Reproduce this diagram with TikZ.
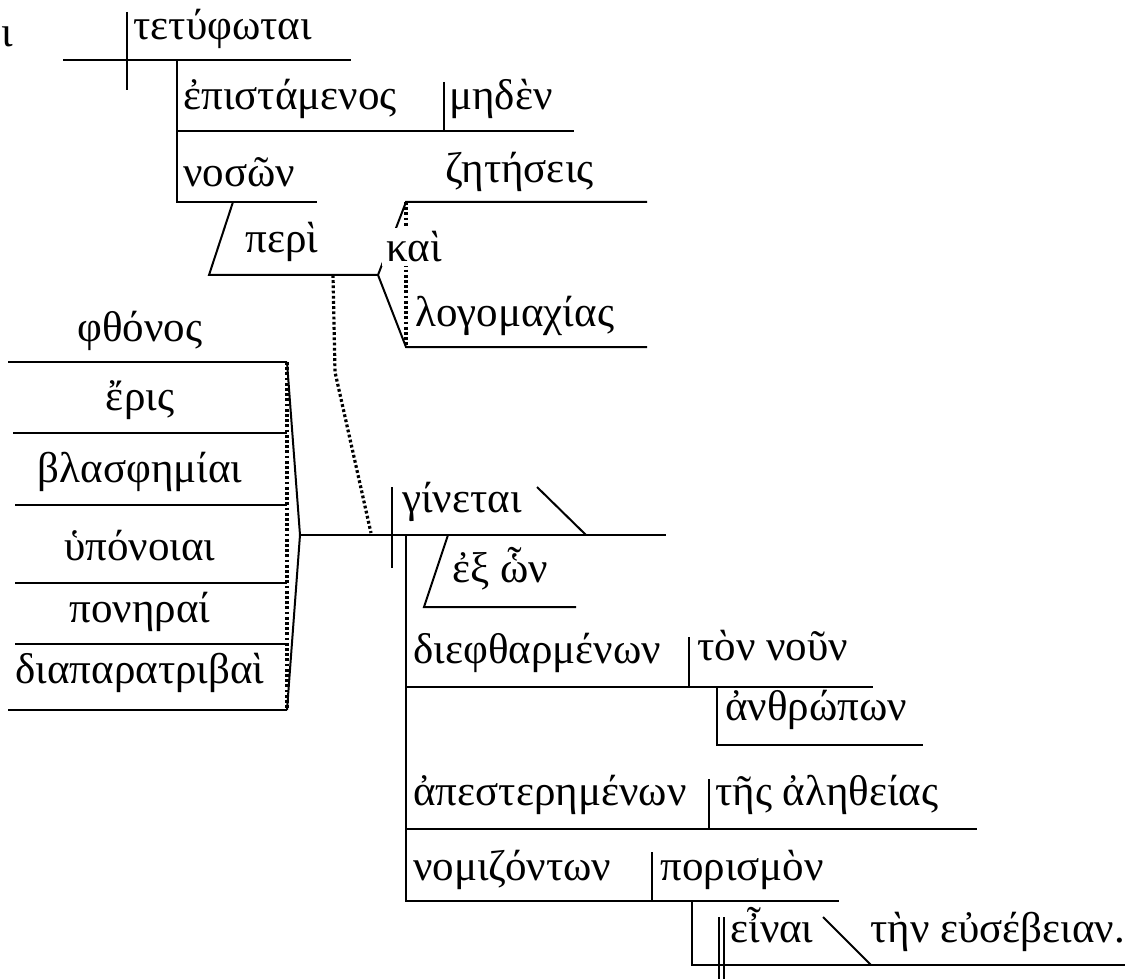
\documentclass[tikz,border=0pt]{standalone}
\usepackage{fontspec}
\setmainfont{Liberation Serif}
\begin{document}
\begin{tikzpicture}[x=0.5pt,y=-0.5pt]
  \tikzset{WordStyle/.style   = {anchor         = base west,
                                 inner sep      = 0pt,
                                 font           = \fontsize{21.5}{26}\selectfont}}
  \tikzset{CenterStyle/.style = {WordStyle,
                                 anchor         = base}}
  \tikzset{EdgeStyle/.style   = {line width     = 1pt}}
  \tikzset{DotStyle/.style    = {line width     = 1.6pt,
                                 dash pattern   = on 1.4pt off 1.2pt}}
%                                 dotted}}

\useasboundingbox (0,0) rectangle (1142,979);

% main clause
\coordinate (S1) at (63,60);
\coordinate (S2) at (351,60);
\coordinate (V1) at (127,12);
\coordinate (V2) at (127,90);
\coordinate (P1) at (177,60);
\coordinate (P2) at (177,131);
\coordinate (P3) at (177,202);
\coordinate (P4) at (574,131);
\coordinate (M1) at (444,82);
\coordinate (M2) at (444,131);
\coordinate (N1) at (317,202);
\coordinate (N2) at (233,202);
\coordinate (R1) at (209,275);
\coordinate (R2) at (378,275);
\coordinate (R3) at (333,275);
\coordinate (R4) at (335,372);
\coordinate (Z1) at (406,202);
\coordinate (Z2) at (647,202);
\coordinate (L1) at (406,347);
\coordinate (L2) at (647,347);

% compound subject
\coordinate (F1) at (287,362);
\coordinate (F2) at (287,433);
\coordinate (F3) at (287,505);
\coordinate (F4) at (287,583);
\coordinate (F5) at (287,644);
\coordinate (F6) at (287,710);
\coordinate (F0) at (300,535);

% second clause
\coordinate (G1) at (371,533);
\coordinate (G2) at (666,535);
\coordinate (D1) at (392,487);
\coordinate (D2) at (392,568);
\coordinate (K1) at (537,487);
\coordinate (K2) at (586,535);
\coordinate (E1) at (448,535);
\coordinate (E2) at (424,607);
\coordinate (E3) at (576,607);
\coordinate (C0) at (406,535);
\coordinate (C1) at (406,687);
\coordinate (C2) at (873,687);
\coordinate (C3) at (689,637);
\coordinate (C4) at (689,687);
\coordinate (A1) at (717,687);
\coordinate (A2) at (717,745);
\coordinate (A3) at (923,745);
\coordinate (T1) at (406,829);
\coordinate (T2) at (977,829);
\coordinate (T3) at (709,779);
\coordinate (T4) at (709,829);
\coordinate (O1) at (406,901);
\coordinate (O2) at (839,901);
\coordinate (O3) at (652,852);
\coordinate (O4) at (652,901);
\coordinate (B1) at (692,901);
\coordinate (B2) at (692,965);
\coordinate (B3) at (1125,965);
\coordinate (B4) at (823,917);
\coordinate (B5) at (871,965);

\draw[EdgeStyle] (S1) -- (S2);
\draw[EdgeStyle] (V1) -- (V2);
\draw[EdgeStyle] (P1) -- (P3) -- (N1);
\draw[EdgeStyle] (P2) -- (P4);
\draw[EdgeStyle] (M1) -- (M2);
\draw[EdgeStyle] (N2) -- (R1) -- (R2);
\draw[EdgeStyle] (R2) -- (Z1) -- (Z2);
\draw[EdgeStyle] (R2) -- (L1) -- (L2);
\draw[DotStyle] (Z1) -- (L1);
\draw[DotStyle] (R3) -- (R4) -- (G1);

\draw[EdgeStyle] (8,362) -- (F1);
\draw[EdgeStyle] (13,433) -- (F2);
\draw[EdgeStyle] (15,505) -- (F3);
\draw[EdgeStyle] (15,583) -- (F4);
\draw[EdgeStyle] (15,644) -- (F5);
\draw[EdgeStyle] (8,710) -- (F6);
\draw[DotStyle] (F1) -- (F6);
\draw[EdgeStyle] (F1) -- (F0) -- (F6);
\draw[EdgeStyle] (F0) -- (G2);

\draw[EdgeStyle] (D1) -- (D2);
\draw[EdgeStyle] (K1) -- (K2);
\draw[EdgeStyle] (E1) -- (E2) -- (E3);
\draw[EdgeStyle] (C0) -- (O1) -- (O2);
\draw[EdgeStyle] (C1) -- (C2);
\draw[EdgeStyle] (C3) -- (C4);
\draw[EdgeStyle] (A1) -- (A2) -- (A3);
\draw[EdgeStyle] (T1) -- (T2);
\draw[EdgeStyle] (T3) -- (T4);
\draw[EdgeStyle] (O3) -- (O4);
\draw[EdgeStyle] (B1) -- (B2) -- (B3);
\draw[EdgeStyle] (719,917) -- (719,979);
\draw[EdgeStyle] (724,917) -- (724,979);
\draw[EdgeStyle] (B4) -- (B5);

\draw (1,47)    node[WordStyle] (iota)    {ι};
\draw (133,40)  node[WordStyle] (tetyph)  {τετύφωται};
\draw (183,110) node[WordStyle] (epist)   {ἐπιστάμενος};
\draw (449,110) node[WordStyle] (meden)   {μηδὲν};
\draw (183,187) node[WordStyle] (noson)   {νοσῶν};
\draw (245,252) node[WordStyle] (peri)    {περὶ};
\draw (445,183) node[WordStyle] (zetes)   {ζητήσεις};
\draw (415,327) node[WordStyle] (logom)   {λογομαχίας};
\draw (382,262) node[WordStyle, fill=white, inner sep=2pt] (kai) {καὶ};

\draw (140,342) node[CenterStyle] (phthon) {φθόνος};
\draw (140,410) node[CenterStyle] (eris)   {ἔρις};
\draw (140,482) node[CenterStyle] (blasph) {βλασφημίαι};
\draw (140,560) node[CenterStyle] (hypon)  {ὑπόνοιαι};
\draw (140,622) node[CenterStyle] (poner)  {πονηραί};
\draw (140,683) node[CenterStyle] (diapa)  {διαπαρατριβαὶ};

\draw (402,512) node[WordStyle] (ginet)   {γίνεται};
\draw (452,582) node[WordStyle] (exon)    {ἐξ ὧν};
\draw (413,663) node[WordStyle] (diephth) {διεφθαρμένων};
\draw (697,660) node[WordStyle] (noun)    {τὸν νοῦν};
\draw (725,720) node[WordStyle] (anthr)   {ἀνθρώπων};
\draw (413,805) node[WordStyle] (apest)   {ἀπεστερημένων};
\draw (715,805) node[WordStyle] (aleth)   {τῆς ἀληθείας};
\draw (413,880) node[WordStyle] (nomiz)   {νομιζόντων};
\draw (660,880) node[WordStyle] (poris)   {πορισμὸν};
\draw (730,942) node[WordStyle] (einai)   {εἶναι};
\draw (870,942) node[WordStyle] (euseb)   {τὴν εὐσέβειαν.};

\end{tikzpicture}
\end{document}
